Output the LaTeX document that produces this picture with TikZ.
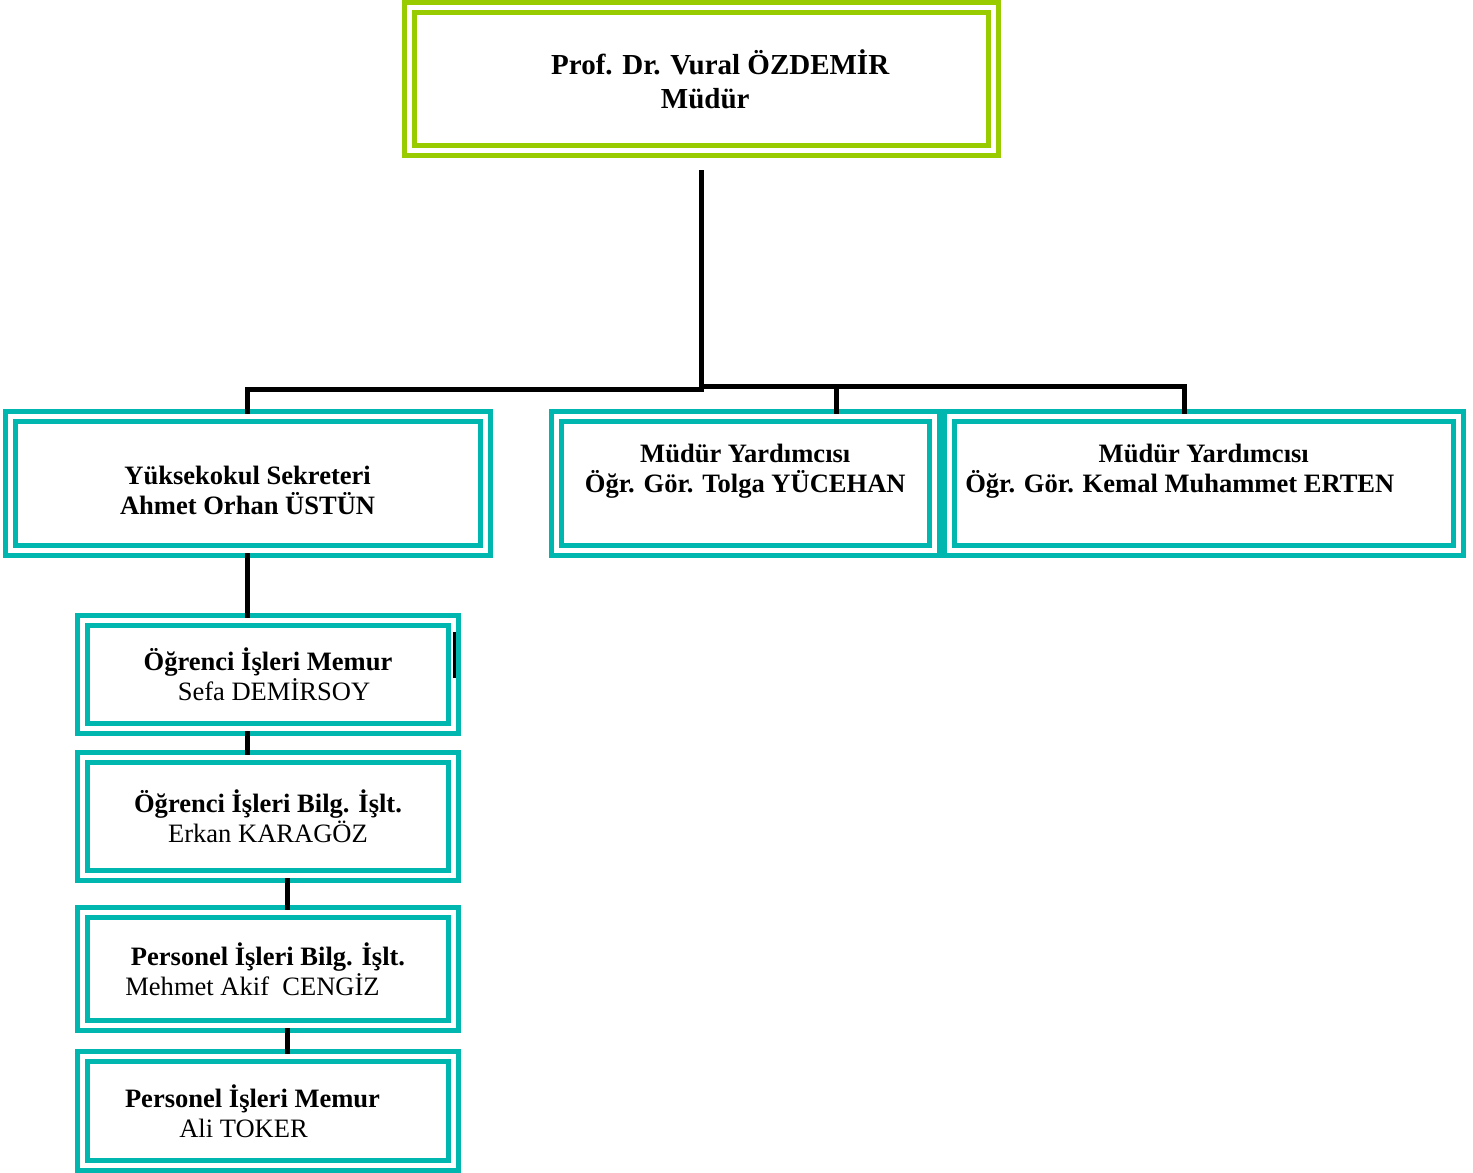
\documentclass[tikz,border=0pt]{standalone}
\usepackage{fontspec}
\setmainfont{Liberation Serif}
\definecolor{unitteal}{RGB}{0,183,175}
\definecolor{headgreen}{RGB}{153,204,0}

\begin{document}
\begin{tikzpicture}[
    unit/.style={draw=unitteal, double=white, double distance=0.05cm, line width=0.05cm,
      fill=white, inner sep=0pt, align=center, font=\fontsize{7.55pt}{8.55pt}\selectfont},
    head/.style={unit, draw=headgreen, font=\fontsize{8.25pt}{9.7pt}\selectfont\bfseries},
    conn/.style={line width=0.05cm}]
  \useasboundingbox (0,0) rectangle (14.73,-11.73);
  \node[head, minimum width=5.84cm, minimum height=1.43cm] (mudur) at (7.012,-0.795)
    {\hspace*{0.38cm}Prof. Dr. Vural ÖZDEMİR\\\hspace*{0.08cm}Müdür};
  \node[unit, minimum width=4.749cm, minimum height=1.337cm] (sekreter) at (2.476,-4.837)
    {\rule{0pt}{0.32cm}\textbf{Yüksekokul Sekreteri}\\\textbf{Ahmet Orhan ÜSTÜN}};
  \node[unit, minimum width=3.775cm, minimum height=1.337cm] (myrd1) at (7.4525,-4.837)
    {\textbf{Müdür Yardımcısı}\\\textbf{Öğr. Gör. Tolga YÜCEHAN}\\~};
  \node[unit, minimum width=5.095cm, minimum height=1.337cm] (myrd2) at (12.0375,-4.837)
    {\textbf{Müdür Yardımcısı}\\\textbf{Öğr. Gör. Kemal Muhammet ERTEN}\hspace*{0.48cm}\mbox{}\\~};
  \node[unit, minimum width=3.71cm, minimum height=1.08cm] (ogrmemur) at (2.68,-6.745)
    {\textbf{Öğrenci İşleri Memur}\\\hspace*{0.12cm}Sefa DEMİRSOY};
  \node[unit, minimum width=3.71cm, minimum height=1.18cm] (ogrbilg) at (2.68,-8.165)
    {\textbf{Öğrenci İşleri Bilg. İşlt.}\\Erkan KARAGÖZ};
  \node[unit, minimum width=3.71cm, minimum height=1.13cm] (perbilg) at (2.68,-9.69)
    {\textbf{Personel İşleri Bilg. İşlt.}\\Mehmet Akif\ \ CENGİZ\hspace*{0.31cm}};
  \node[unit, minimum width=3.71cm, minimum height=1.084cm] (permemur) at (2.68,-11.11)
    {\textbf{Personel İşleri Memur}\hspace*{0.31cm}\\Ali TOKER\hspace*{0.49cm}};
  \coordinate (busL) at (7.012,-3.90);
  \coordinate (busR) at (7.012,-3.87);
  \draw[conn] ([yshift=-0.17cm]mudur.south) -- (busL) -| (sekreter.north);
  \draw[conn] (busR) -| ([xshift=-0.19cm]myrd2.north);
  \draw[conn] (busR) -| ([xshift=0.91cm]myrd1.north);
  \draw[conn] (sekreter.south) -- (sekreter.south |- ogrmemur.north);
  \draw[conn] ([xshift=-0.21cm]ogrmemur.south) -- ([xshift=-0.21cm]ogrbilg.north);
  \draw[conn] ([xshift=0.19cm]ogrbilg.south) -- ([xshift=0.19cm]perbilg.north);
  \draw[conn] ([xshift=0.19cm]perbilg.south) -- ([xshift=0.19cm]permemur.north);
  \draw[line width=0.03cm] ([xshift=-0.015cm,yshift=-0.14cm]ogrmemur.north east) -- ++(0,-0.46);
\end{tikzpicture}
\end{document}
